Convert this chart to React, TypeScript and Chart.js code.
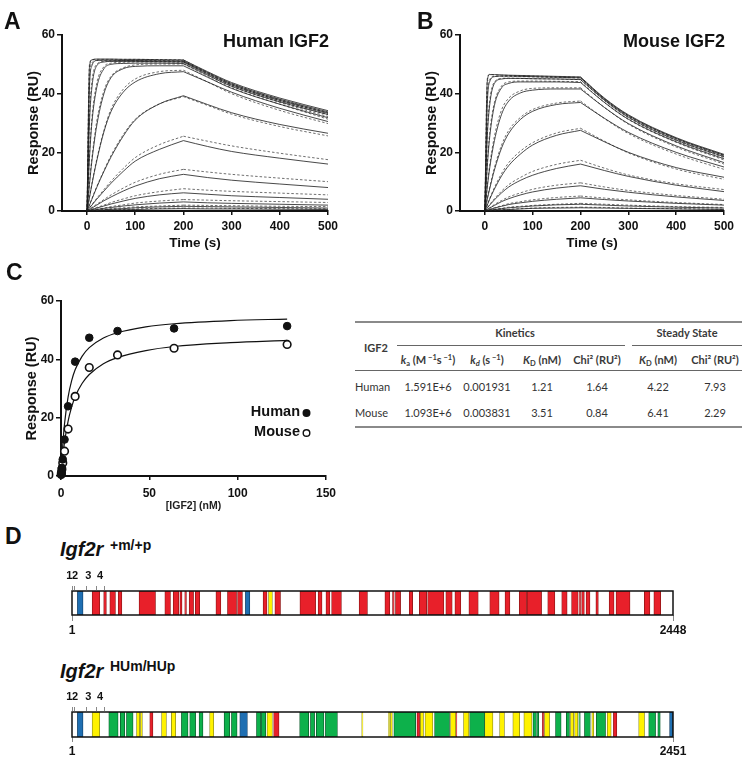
import React, { useEffect, useRef } from 'react';
import { Chart, registerables } from 'chart.js';
Chart.register(...registerables);

const FONT = "'Liberation Sans', Arial, Helvetica, sans-serif";
const TFONT = "Lato, 'Open Sans', sans-serif";
const INK = '#111';

// ---------- Panels A / B : sensorgrams ----------
const timePoints = [0, 5, 10, 20, 35, 50, 75, 100, 150, 200, 250, 300, 400, 500];
const injectionEnd = 200;
const sensorXTicks = [0, 100, 200, 300, 400, 500];
const responseTicks = [0, 20, 40, 60];

const humanResponse = [
  [0, 49, 51.5, 51.8, 51.8, 51.8, 51.7, 51.7, 51.6, 51.5, 47.5, 43.8, 38.5, 34.2],
  [0, 42, 49.5, 51.3, 51.4, 51.4, 51.3, 51.3, 51.2, 51.1, 47.2, 43.4, 38.1, 33.8],
  [0, 30, 42, 49.5, 50.8, 51, 51, 51, 50.9, 50.8, 46.8, 43, 37.7, 33.4],
  [0, 18, 30, 42, 48.5, 50, 50.3, 50.4, 50.4, 50.3, 46.3, 42.5, 37.2, 32.9],
  [0, 9, 17, 29, 40, 45.5, 48.5, 49.3, 49.5, 49.5, 45.6, 41.8, 36.4, 31.8],
  [0, 4.5, 9, 17, 27, 34, 40.5, 44, 46.8, 47.5, 44, 40.5, 35, 30.5],
  [0, 2, 4, 8, 13.5, 18.5, 25.5, 31, 36.5, 39.3, 36.3, 33.5, 29.5, 26.5],
  [0, 1, 2, 4, 6.8, 9.5, 13.5, 17, 21, 24, 22, 20.3, 18, 16],
  [0, 0.5, 1, 2, 3.5, 4.8, 6.8, 8.5, 11, 12.5, 11.4, 10.5, 9.2, 8],
  [0, 0.3, 0.5, 1, 1.7, 2.4, 3.4, 4.3, 5.5, 6.2, 5.7, 5.2, 4.6, 4],
  [0, 0.1, 0.3, 0.5, 0.9, 1.2, 1.7, 2.1, 2.7, 3.1, 2.8, 2.6, 2.3, 2],
  [0, 0.1, 0.1, 0.3, 0.4, 0.6, 0.8, 1.1, 1.4, 1.6, 1.5, 1.4, 1.2, 1],
  [0, 0, 0.1, 0.1, 0.2, 0.3, 0.4, 0.5, 0.7, 0.8, 0.7, 0.7, 0.6, 0.5],
];
const humanFit = [
  [0, 50, 51.6, 51.7, 51.7, 51.7, 51.7, 51.7, 51.6, 51.5, 47.3, 43.5, 38, 33.5],
  [0, 44, 50.5, 51.4, 51.4, 51.4, 51.4, 51.4, 51.3, 51.2, 47, 43.2, 37.7, 33.2],
  [0, 32, 44, 50, 51, 51.1, 51.1, 51.1, 51, 51, 46.8, 42.9, 37.4, 32.8],
  [0, 19, 31.5, 43.5, 49.2, 50.4, 50.7, 50.8, 50.8, 50.7, 46.5, 42.6, 37, 32.2],
  [0, 10, 18, 30.5, 41, 46, 48.8, 49.8, 50.1, 50.1, 45.9, 42, 36.4, 31.3],
  [0, 4.8, 9.3, 17.5, 27.5, 34.8, 41.5, 45, 47.5, 48, 44, 40, 34.3, 29.8],
  [0, 2.1, 4.2, 8.3, 13.8, 19, 26, 31.3, 36.5, 39, 36, 33, 28.8, 25.6],
  [0, 1.1, 2.2, 4.3, 7.3, 10.2, 14.5, 18.2, 22.6, 25.5, 23.8, 22.2, 19.7, 17.5],
  [0, 0.6, 1.2, 2.3, 3.9, 5.5, 7.8, 9.8, 12.5, 14.2, 13.3, 12.5, 11.2, 10],
  [0, 0.3, 0.6, 1.2, 2, 2.9, 4.1, 5.2, 6.6, 7.6, 7.1, 6.7, 6.1, 5.5],
  [0, 0.15, 0.3, 0.6, 1, 1.5, 2.1, 2.7, 3.4, 3.9, 3.7, 3.5, 3.2, 2.9],
  [0, 0.1, 0.15, 0.3, 0.5, 0.8, 1.1, 1.4, 1.7, 2, 1.9, 1.8, 1.6, 1.5],
  [0, 0, 0.1, 0.15, 0.3, 0.4, 0.5, 0.7, 0.9, 1, 1, 0.9, 0.8, 0.75],
];
const mouseResponse = [
  [0, 44, 46.5, 46.5, 46.4, 46.3, 46.2, 46.1, 45.9, 45.7, 38.5, 32.8, 25, 19.3],
  [0, 36, 44, 45.8, 46, 46, 45.9, 45.8, 45.6, 45.4, 38.2, 32.5, 24.7, 19],
  [0, 25, 36, 43.5, 45, 45.2, 45.2, 45.1, 45, 44.8, 37.8, 32, 24.2, 18.5],
  [0, 15, 25, 36, 42, 43.5, 44, 44, 44, 43.8, 37, 31.3, 23.6, 17.8],
  [0, 8, 14.5, 24, 33, 37.5, 40.3, 41.2, 41.6, 41.6, 35.3, 29.8, 22.2, 16.5],
  [0, 4, 7.5, 14, 21.5, 26.5, 31.3, 34, 36.3, 37, 31.6, 26.8, 20, 15],
  [0, 2, 4, 7.5, 12, 15.5, 19.5, 22.5, 25.8, 27.5, 23.6, 20, 14.8, 11.5],
  [0, 1, 2, 3.8, 6.2, 8.2, 10.5, 12.2, 14.5, 16, 13.8, 11.8, 8.8, 6.6],
  [0, 0.5, 1, 1.9, 3.2, 4.2, 5.5, 6.5, 7.8, 8.6, 7.4, 6.4, 4.8, 3.6],
  [0, 0.3, 0.5, 1, 1.6, 2.2, 2.8, 3.3, 4, 4.5, 3.9, 3.4, 2.6, 2],
  [0, 0.1, 0.3, 0.5, 0.8, 1.1, 1.4, 1.7, 2.1, 2.3, 2, 1.7, 1.3, 1],
  [0, 0.1, 0.1, 0.3, 0.4, 0.5, 0.7, 0.9, 1, 1.1, 1, 0.9, 0.7, 0.5],
];
const mouseFit = [
  [0, 45, 46.6, 46.4, 46.3, 46.2, 46.1, 46, 45.8, 45.6, 38.3, 32.5, 24.8, 19],
  [0, 38, 44.8, 45.9, 45.9, 45.9, 45.8, 45.7, 45.5, 45.3, 38, 32.3, 24.5, 18.7],
  [0, 26.5, 37.5, 44, 45.2, 45.3, 45.2, 45.1, 45, 44.8, 37.6, 31.8, 24, 18.2],
  [0, 16, 26.5, 37, 42.6, 44, 44.3, 44.3, 44.2, 44.1, 37, 31.2, 23.4, 17.4],
  [0, 8.5, 15.5, 25.5, 34.5, 38.5, 41, 41.8, 42, 42, 35.3, 29.6, 21.8, 16],
  [0, 4.2, 8, 14.8, 22.5, 27.5, 32, 34.6, 36.8, 37.5, 31.5, 26.4, 19.4, 14.2],
  [0, 2.1, 4.2, 8, 12.8, 16.5, 20.5, 23.3, 26.6, 28.2, 23.8, 19.8, 14.3, 10.8],
  [0, 1.1, 2.2, 4.2, 6.8, 9, 11.5, 13.5, 15.9, 17.3, 14.6, 12.3, 9.3, 7.3],
  [0, 0.6, 1.1, 2.2, 3.6, 4.8, 6.2, 7.4, 8.8, 9.6, 8.2, 7, 5.3, 4],
  [0, 0.3, 0.6, 1.1, 1.8, 2.5, 3.2, 3.8, 4.6, 5.1, 4.4, 3.8, 2.9, 2.2],
  [0, 0.15, 0.3, 0.6, 0.9, 1.3, 1.6, 1.9, 2.3, 2.6, 2.3, 2, 1.5, 1.2],
  [0, 0.1, 0.15, 0.3, 0.45, 0.6, 0.8, 1, 1.2, 1.3, 1.2, 1, 0.8, 0.6],
];

// ---------- Panel C : steady state ----------
const concentrations = [0.125, 0.25, 0.5, 1, 2, 4, 8, 16, 32, 64, 128];
const humanSteady = [0.6, 1.4, 2.8, 5.7, 12.5, 23.9, 39.2, 47.4, 49.7, 50.6, 51.4];
const mouseSteady = [0.5, 1.1, 2.3, 4.5, 8.5, 16.1, 27.3, 37.2, 41.5, 43.8, 45.1];
const fitConcentrations = [0, 0.5, 1, 2, 4, 6, 8, 12, 16, 24, 32, 48, 64, 96, 128];
const humanSteadyFit = [0, 5.9, 10.65, 17.9, 27.05, 32.6, 36.4, 41.1, 44.0, 47.3, 49.1, 51.1, 52.2, 53.3, 53.8];
const mouseSteadyFit = [0, 3.5, 6.6, 11.6, 18.75, 23.6, 27.2, 31.8, 34.8, 38.5, 40.6, 43.0, 44.4, 45.7, 46.5];
const concTicks = [0, 50, 100, 150];
const legendNames = ['Human', 'Mouse'];

// ---------- Table ----------
const tableSpecies = ['Human', 'Mouse'];
const kaValues = ['1.591E+6', '1.093E+6'];
const kdValues = ['0.001931', '0.003831'];
const kineticKD = ['1.21', '3.51'];
const kineticChi = ['1.64', '0.84'];
const steadyKD = ['4.22', '6.41'];
const steadyChi = ['7.93', '2.29'];

// ---------- Panel D : receptor domain maps ----------
const wildTypeLength = 2448;
const humanizedLength = 2451;
const domainLines = [1, 8, 57, 98, 130];
const domainLabels = ['1', '2', '3', '4'];
const domainLabelAt = [-10, 13, 67, 115];
const wildTypeSegments = [
  [23, 46, 'B'], [83, 114, 'R'], [130, 141, 'R'], [155, 178, 'R'], [189, 204, 'R'], [274, 341, 'R'],
  [379, 402, 'R'], [413, 436, 'R'], [440, 449, 'R'], [460, 467, 'R'], [478, 496, 'R'], [503, 521, 'R'],
  [587, 607, 'R'], [634, 671, 'R'], [675, 695, 'R'], [707, 725, 'B'], [779, 795, 'R'], [801, 817, 'Y'],
  [827, 850, 'R'], [929, 993, 'R'], [1003, 1019, 'R'], [1035, 1051, 'R'], [1058, 1098, 'R'], [1170, 1204, 'R'],
  [1275, 1295, 'R'], [1306, 1313, 'R'], [1318, 1339, 'R'], [1374, 1388, 'R'], [1415, 1445, 'R'], [1449, 1515, 'R'],
  [1523, 1549, 'R'], [1560, 1584, 'R'], [1617, 1655, 'R'], [1702, 1740, 'R'], [1764, 1784, 'R'], [1822, 1852, 'R'],
  [1854, 1913, 'R'], [1938, 1967, 'R'], [1995, 2017, 'R'], [2035, 2062, 'R'], [2066, 2072, 'R'], [2076, 2087, 'R'],
  [2094, 2110, 'R'], [2134, 2144, 'R'], [2188, 2208, 'R'], [2216, 2273, 'R'], [2331, 2354, 'R'], [2370, 2398, 'R'],
];
const humanizedSegments = [
  [23, 46, 'B'], [83, 114, 'Y'], [151, 189, 'G'], [198, 216, 'G'], [223, 250, 'G'], [264, 277, 'Y'],
  [280, 288, 'Y'], [318, 331, 'R'], [366, 386, 'Y'], [406, 424, 'Y'], [447, 474, 'G'], [481, 505, 'G'],
  [519, 535, 'G'], [562, 579, 'Y'], [621, 644, 'G'], [651, 674, 'G'], [685, 716, 'B'], [753, 770, 'G'],
  [773, 791, 'G'], [796, 818, 'Y'], [823, 845, 'R'], [929, 966, 'G'], [973, 990, 'G'], [997, 1028, 'G'],
  [1034, 1083, 'G'], [1182, 1187, 'Y'], [1291, 1296, 'Y'], [1299, 1307, 'Y'], [1313, 1402, 'G'], [1407, 1418, 'R'],
  [1421, 1434, 'Y'], [1440, 1472, 'Y'], [1479, 1540, 'G'], [1544, 1565, 'Y'], [1565, 1570, 'R'], [1597, 1619, 'Y'],
  [1622, 1683, 'G'], [1683, 1717, 'Y'], [1744, 1764, 'Y'], [1798, 1826, 'Y'], [1843, 1876, 'Y'], [1880, 1894, 'G'],
  [1896, 1904, 'G'], [1918, 1925, 'R'], [1927, 1948, 'Y'], [1972, 1995, 'G'], [2016, 2029, 'G'], [2033, 2046, 'Y'],
  [2050, 2063, 'Y'], [2067, 2073, 'G'], [2090, 2114, 'G'], [2120, 2128, 'Y'], [2138, 2176, 'G'], [2183, 2199, 'Y'],
  [2208, 2222, 'R'], [2311, 2335, 'Y'], [2352, 2380, 'G'], [2389, 2399, 'G'], [2437, 2451, 'B'],
];

const segmentFill: Record<string, string> = { R: '#e8202a', B: '#1f6fb2', Y: '#fff200', G: '#0db14b' };
const segmentEdge: Record<string, string> = { R: '#8c1515', B: '#0e3d66', Y: '#8a8a20', G: '#0a5a2a' };

// ---------- helpers ----------
const fixedTicks = (values: number[]) => (s: any) => {
  s.ticks = values.map((v) => ({ value: v }));
};
const plainLabel = (v: any) => String(v);

function axisStyle(extra: any) {
  return {
    border: { display: true, color: INK, width: 2 },
    grid: { drawOnChartArea: false, drawTicks: true, tickLength: 4, color: INK, lineWidth: 1.5 },
    ...extra,
  };
}

function cornerText(text: string) {
  return {
    id: 'cornerText',
    afterDraw(chart: any) {
      const { ctx, chartArea } = chart;
      ctx.save();
      ctx.font = `bold 18px ${FONT}`;
      ctx.fillStyle = INK;
      ctx.textAlign = 'right';
      ctx.textBaseline = 'middle';
      ctx.fillText(text, chartArea.right + 1, 42);
      ctx.restore();
    },
  };
}

function sensorConfig(resp: number[][], fit: number[][], title: string, padRight: number) {
  const split = timePoints.indexOf(injectionEnd);
  const datasets: any[] = [];
  const addCurve = (arr: number[], dashed: boolean) => {
    const pts = timePoints.map((t, i) => ({ x: t, y: arr[i] }));
    [pts.slice(0, split + 1), pts.slice(split)].forEach((seg) => {
      datasets.push({
        data: seg,
        borderColor: dashed ? '#4a4a4a' : '#1a1a1a',
        borderWidth: 0.8,
        borderDash: dashed ? [2.5, 2] : [],
        pointRadius: 0,
        fill: false,
        cubicInterpolationMode: 'monotone',
      });
    });
  };
  resp.forEach((a) => addCurve(a, false));
  fit.forEach((a) => addCurve(a, true));
  return {
    type: 'line',
    data: { datasets },
    options: {
      animation: false,
      responsive: false,
      events: [],
      layout: { padding: { top: 35, right: padRight, left: 0, bottom: 0 } },
      plugins: { legend: { display: false }, tooltip: { enabled: false } },
      scales: {
        x: axisStyle({
          type: 'linear',
          min: -52,
          max: 500,
          afterBuildTicks: fixedTicks(sensorXTicks),
          afterFit: (s: any) => { s.height = 44; },
          ticks: { font: { family: FONT, size: 12, weight: 'bold' }, color: INK, padding: 4, maxRotation: 0, callback: plainLabel },
          title: { display: true, text: 'Time (s)', font: { family: FONT, size: 13.5, weight: 'bold' }, color: INK, padding: { top: 0, bottom: 4 } },
        }),
        y: axisStyle({
          min: 0,
          max: 60,
          afterBuildTicks: fixedTicks(responseTicks),
          afterFit: (s: any) => { s.width = 62; },
          grid: { drawOnChartArea: false, tickLength: 5, color: INK, lineWidth: 1.5 },
          ticks: { font: { family: FONT, size: 12, weight: 'bold' }, color: INK, padding: 2, callback: plainLabel },
          title: { display: true, text: 'Response (RU)', font: { family: FONT, size: 14.5, weight: 'bold' }, color: INK, padding: { top: 25, bottom: 0 } },
        }),
      },
    },
    plugins: [cornerText(title)],
  };
}

const steadyLegend = {
  id: 'steadyLegend',
  afterDraw(chart: any) {
    const { ctx, chartArea } = chart;
    ctx.save();
    ctx.font = `bold 14.5px ${FONT}`;
    ctx.textAlign = 'right';
    ctx.textBaseline = 'middle';
    legendNames.forEach((name, i) => {
      const y = chartArea.top + 111 + i * 20;
      const x = chartArea.right - 26;
      ctx.fillStyle = INK;
      ctx.fillText(name, x, y);
      ctx.beginPath();
      ctx.arc(x + 6.5, y + 1, 3.3, 0, Math.PI * 2);
      ctx.lineWidth = 1.4;
      ctx.strokeStyle = INK;
      ctx.fillStyle = i === 0 ? INK : '#fff';
      ctx.fill();
      ctx.stroke();
    });
    ctx.restore();
  },
};

function steadyConfig() {
  const pts = (ys: number[]) => concentrations.map((c, i) => ({ x: c, y: ys[i] }));
  const fitPts = (ys: number[]) => fitConcentrations.map((c, i) => ({ x: c, y: ys[i] }));
  return {
    type: 'scatter',
    data: {
      datasets: [
        { data: pts(humanSteady), pointRadius: 3.8, backgroundColor: INK, borderColor: INK, borderWidth: 1, showLine: false, clip: false },
        { data: pts(mouseSteady), pointRadius: 3.8, backgroundColor: '#fff', borderColor: INK, borderWidth: 1.6, showLine: false, clip: false },
        { data: fitPts(humanSteadyFit), pointRadius: 0, showLine: true, borderColor: INK, borderWidth: 1.2, cubicInterpolationMode: 'monotone', clip: false },
        { data: fitPts(mouseSteadyFit), pointRadius: 0, showLine: true, borderColor: INK, borderWidth: 1.2, cubicInterpolationMode: 'monotone', clip: false },
      ],
    },
    options: {
      animation: false,
      responsive: false,
      events: [],
      layout: { padding: { top: 36, right: 19, left: 0, bottom: 0 } },
      plugins: { legend: { display: false }, tooltip: { enabled: false } },
      scales: {
        x: axisStyle({
          type: 'linear',
          min: 0,
          max: 150,
          afterBuildTicks: fixedTicks(concTicks),
          afterFit: (s: any) => { s.height = 39; },
          grid: { drawOnChartArea: false, tickLength: 4, color: INK, lineWidth: 1.5 },
          ticks: { font: { family: FONT, size: 12, weight: 'bold' }, color: INK, padding: 6, maxRotation: 0, callback: plainLabel },
          title: { display: true, text: '[IGF2] (nM)', font: { family: FONT, size: 10.5, weight: 'bold' }, color: '#222', padding: { top: 0, bottom: 3 } },
        }),
        y: axisStyle({
          min: 0,
          max: 60,
          afterBuildTicks: fixedTicks(responseTicks),
          afterFit: (s: any) => { s.width = 61; },
          grid: { drawOnChartArea: false, tickLength: 5, color: INK, lineWidth: 1.5 },
          ticks: { font: { family: FONT, size: 12, weight: 'bold' }, color: INK, padding: 2, callback: plainLabel },
          title: { display: true, text: 'Response (RU)', font: { family: FONT, size: 14.5, weight: 'bold' }, color: INK, padding: { top: 23, bottom: 0 } },
        }),
      },
    },
    plugins: [steadyLegend],
  };
}

const domainDecor = {
  id: 'domainDecor',
  afterDatasetsDraw(chart: any) {
    const { ctx, chartArea } = chart;
    const xs = chart.scales.x;
    ctx.save();
    ctx.strokeStyle = INK;
    ctx.lineWidth = 1.5;
    ctx.strokeRect(chartArea.left, chartArea.top, chartArea.right - chartArea.left, chartArea.bottom - chartArea.top);
    ctx.lineWidth = 0.7;
    ctx.strokeStyle = '#555';
    domainLines.forEach((r) => {
      const x = Math.round(xs.getPixelForValue(r)) + 0.5;
      ctx.beginPath();
      ctx.moveTo(x, chartArea.top - 5);
      ctx.lineTo(x, chartArea.top);
      ctx.stroke();
    });
    ctx.font = `bold 11px ${FONT}`;
    ctx.fillStyle = INK;
    ctx.textAlign = 'center';
    ctx.textBaseline = 'middle';
    domainLabels.forEach((t, i) => {
      ctx.fillText(t, xs.getPixelForValue(domainLabelAt[i]), chartArea.top - 15);
    });
    ctx.restore();
  },
};

function domainConfig(segments: any[], length: number, padTop: number, axisHeight: number, tickLen: number) {
  const datasets = segments.map(([s, e, k]) => ({
    data: [[s, e]],
    backgroundColor: segmentFill[k],
    borderColor: segmentEdge[k],
    borderWidth: 0.8,
    borderSkipped: false,
    grouped: false,
    barPercentage: 1,
    categoryPercentage: 1,
  }));
  return {
    type: 'bar',
    data: { labels: ['receptor'], datasets },
    options: {
      indexAxis: 'y',
      animation: false,
      responsive: false,
      events: [],
      layout: { padding: { left: 72, right: 72, top: padTop, bottom: 0 } },
      plugins: { legend: { display: false }, tooltip: { enabled: false } },
      scales: {
        x: {
          type: 'linear',
          min: 1,
          max: length,
          afterBuildTicks: fixedTicks([1, length]),
          afterFit: (s: any) => { s.height = axisHeight; },
          border: { display: false },
          grid: { drawOnChartArea: false, drawTicks: true, tickLength: tickLen, color: '#888', lineWidth: 1 },
          ticks: { font: { family: FONT, size: 12, weight: 'bold' }, color: INK, padding: 2, maxRotation: 0, autoSkip: false, callback: plainLabel },
        },
        y: { display: false },
      },
    },
    plugins: [domainDecor],
  };
}

function ChartBox({ make, left, top, width, height }: any) {
  const ref = useRef<HTMLCanvasElement | null>(null);
  useEffect(() => {
    const chart = new Chart(ref.current as HTMLCanvasElement, make());
    return () => chart.destroy();
  }, []);
  return (
    <canvas
      ref={ref}
      width={width}
      height={height}
      style={{ position: 'absolute', left, top, width, height }}
    />
  );
}

function Txt({ x, y, w = 120, align = 'center', children, style }: any) {
  const left = align === 'center' ? x - w / 2 : align === 'right' ? x - w : x;
  return (
    <div
      style={{
        position: 'absolute',
        left,
        top: y - 8,
        width: w,
        height: 16,
        lineHeight: '16px',
        textAlign: align,
        whiteSpace: 'nowrap',
        ...style,
      }}
    >
      {children}
    </div>
  );
}

function Rule({ x1, x2, y, h = 1, color = '#555' }: any) {
  return <div style={{ position: 'absolute', left: x1, top: y - h / 2, width: x2 - x1, height: h, background: color }} />;
}

const subS = { fontSize: 7.5, verticalAlign: '-2px', lineHeight: 0 };
const supS = { fontSize: 7.5, verticalAlign: '4px', lineHeight: 0 };

function KineticsTable() {
  const cols = [428, 487, 542, 597, 658, 715];
  const rowsY = [387, 413];
  const base = { fontFamily: TFONT, fontSize: 11, color: '#333' };
  const head = { ...base, fontWeight: 700, color: '#3a3a3a' };
  const columns = [kaValues, kdValues, kineticKD, kineticChi, steadyKD, steadyChi];
  return (
    <>
      <Rule x1={355} x2={742} y={322} h={2} color="#8a8a8a" />
      <Txt x={376} y={348} w={50} style={head}>IGF2</Txt>
      <Txt x={515} y={333} w={120} style={head}>Kinetics</Txt>
      <Txt x={687} y={333} w={120} style={head}>Steady State</Txt>
      <Rule x1={397} x2={625} y={345} h={1} color="#666" />
      <Rule x1={632} x2={742} y={345} h={1} color="#666" />
      <Txt x={cols[0]} y={360} style={head}><i>k</i><sub style={subS}>a</sub> (M<sup style={supS}> −1</sup>s<sup style={supS}> −1</sup>)</Txt>
      <Txt x={cols[1]} y={360} style={head}><i>k</i><sub style={subS}><i>d</i></sub> (s<sup style={supS}> −1</sup>)</Txt>
      <Txt x={cols[2]} y={360} style={head}><i>K</i><sub style={subS}>D</sub> (nM)</Txt>
      <Txt x={cols[3]} y={360} style={head}>Chi² (RU²)</Txt>
      <Txt x={cols[4]} y={360} style={head}><i>K</i><sub style={subS}>D</sub> (nM)</Txt>
      <Txt x={cols[5]} y={360} style={head}>Chi² (RU²)</Txt>
      <Rule x1={355} x2={742} y={370} h={1} color="#666" />
      {tableSpecies.map((sp, r) => (
        <React.Fragment key={sp}>
          <Txt x={355} y={rowsY[r]} w={60} align="left" style={base}>{sp}</Txt>
          {columns.map((col, c) => (
            <Txt key={c} x={cols[c]} y={rowsY[r]} style={base}>{col[r]}</Txt>
          ))}
        </React.Fragment>
      ))}
      <Rule x1={355} x2={742} y={427} h={2} color="#8a8a8a" />
    </>
  );
}

const panelLetter = { position: 'absolute', fontFamily: FONT, fontWeight: 700, fontSize: 23, lineHeight: '23px', color: INK } as any;
const geneName = { position: 'absolute', fontFamily: FONT, fontWeight: 700, fontStyle: 'italic', fontSize: 20, lineHeight: '20px', color: INK, whiteSpace: 'nowrap' } as any;
const geneSup = { position: 'absolute', fontFamily: FONT, fontWeight: 700, fontSize: 14, lineHeight: '14px', color: INK, whiteSpace: 'nowrap' } as any;

export default function App() {
  return (
    <div style={{ position: 'absolute', left: 0, top: 0, width: 745, height: 758, overflow: 'hidden', background: '#fff' }}>
      <ChartBox make={() => sensorConfig(humanResponse, humanFit, 'Human IGF2', 17)} left={0} top={0} width={345} height={255} />
      <ChartBox make={() => sensorConfig(mouseResponse, mouseFit, 'Mouse IGF2', 17)} left={398} top={0} width={343} height={255} />
      <ChartBox make={steadyConfig} left={0} top={265} width={345} height={250} />
      <KineticsTable />
      <ChartBox make={() => domainConfig(wildTypeSegments, wildTypeLength, 21, 25, 6)} left={0} top={570} width={745} height={70} />
      <ChartBox make={() => domainConfig(humanizedSegments, humanizedLength, 22, 21, 5)} left={0} top={690} width={745} height={68} />

      <div style={{ ...panelLetter, left: 4, top: 10 }}>A</div>
      <div style={{ ...panelLetter, left: 417, top: 10 }}>B</div>
      <div style={{ ...panelLetter, left: 6, top: 261 }}>C</div>
      <div style={{ ...panelLetter, left: 5, top: 525 }}>D</div>

      <div style={{ ...geneName, left: 60, top: 539 }}>Igf2r</div>
      <div style={{ ...geneSup, left: 110, top: 538 }}>+m/+p</div>
      <div style={{ ...geneName, left: 60, top: 661 }}>Igf2r</div>
      <div style={{ ...geneSup, left: 110, top: 659 }}>HUm/HUp</div>
    </div>
  );
}
